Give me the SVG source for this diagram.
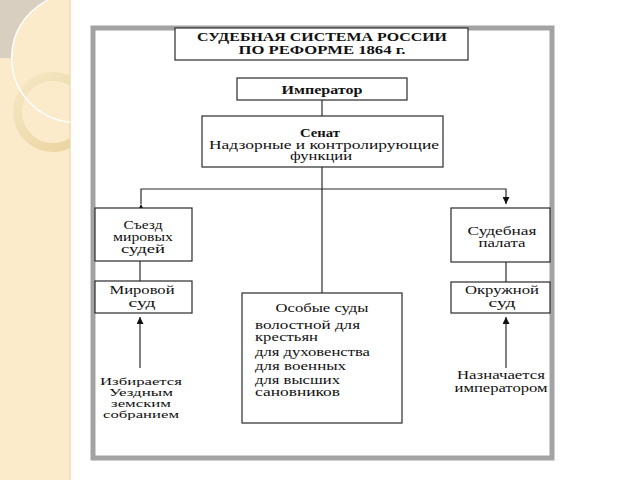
<svg xmlns="http://www.w3.org/2000/svg" width="640" height="480" viewBox="0 0 640 480">
<defs>
<marker id="ah" viewBox="0 0 10 10" refX="10" refY="5" markerWidth="7" markerHeight="7" orient="auto" markerUnits="userSpaceOnUse">
<path d="M0,0 L10,5 L0,10 Z" fill="#111"/>
</marker>
<clipPath id="strip"><rect x="0" y="0" width="70" height="480"/></clipPath>
<linearGradient id="ring" x1="0" y1="0" x2="1" y2="1">
<stop offset="0" stop-color="#F6E8C4"/>
<stop offset="1" stop-color="#E9D29C"/>
</linearGradient>
</defs>
<style>
.box{fill:#fff;stroke:#2a2a2a;stroke-width:1.2}
.ln{fill:none;stroke:#2a2a2a;stroke-width:1.2}
text{font-family:"Liberation Serif","Times New Roman",serif;font-size:11.5px;fill:#111;text-anchor:middle}
.b{font-weight:bold}
.l{text-anchor:start}
.s{font-size:10.5px}
</style>
<rect x="0" y="0" width="640" height="480" fill="#fff"/>
<g id="decor">
<rect x="0" y="0" width="70" height="480" fill="#FBEBCB"/>
<line x1="70" y1="0" x2="70" y2="480" stroke="#EFDDB6" stroke-width="1.5"/>
<g clip-path="url(#strip)">
<path d="M0,0 L48,0 A64.3,64.3 0 0 0 12,58 L0,58 Z" fill="#D8CFC1"/>
<circle cx="53" cy="112" r="35.5" fill="none" stroke="url(#ring)" stroke-width="9"/>
<circle cx="76" cy="58" r="64.3" fill="none" stroke="#fff" stroke-width="1.5"/>
</g>
</g>
<rect id="frame" x="93" y="28" width="459" height="430" fill="#fff" stroke="#a3a3a3" stroke-width="5"/>
<g id="connectors">
<line class="ln" x1="322" y1="100" x2="322" y2="116"/>
<line class="ln" x1="322" y1="167" x2="322" y2="293"/>
<polyline class="ln" points="141,204 141,189 506,189 506,204" marker-start="url(#ah)" marker-end="url(#ah)"/>
<line class="ln" x1="140" y1="261" x2="140" y2="281"/>
<line class="ln" x1="506" y1="262" x2="506" y2="282"/>
<line class="ln" x1="140" y1="368" x2="140" y2="317" marker-end="url(#ah)"/>
<line class="ln" x1="506" y1="368" x2="506" y2="317" marker-end="url(#ah)"/>
</g>
<g id="title">
<rect class="box" x="175" y="28" width="293" height="32"/>
<text class="b" x="322" y="41" textLength="250" lengthAdjust="spacingAndGlyphs" style="font-size:12px">СУДЕБНАЯ СИСТЕМА РОССИИ</text>
<text class="b" x="322" y="54" textLength="167" lengthAdjust="spacingAndGlyphs" style="font-size:12px">ПО РЕФОРМЕ 1864 г.</text>
</g>
<g id="emperor">
<rect class="box" x="237" y="78" width="170" height="22"/>
<text class="b" x="322" y="94" textLength="81" lengthAdjust="spacingAndGlyphs">Император</text>
</g>
<g id="senate">
<rect class="box" x="202" y="116" width="241" height="51"/>
<text class="b" x="320" y="137" textLength="40" lengthAdjust="spacingAndGlyphs">Сенат</text>
<text x="324" y="149" textLength="230" lengthAdjust="spacingAndGlyphs">Надзорные и контролирующие</text>
<text x="321" y="160" textLength="62" lengthAdjust="spacingAndGlyphs">функции</text>
</g>
<g id="congress">
<rect class="box" x="95" y="208" width="97" height="53"/>
<text x="143" y="229" textLength="39" lengthAdjust="spacingAndGlyphs">Съезд</text>
<text x="143" y="241" textLength="60" lengthAdjust="spacingAndGlyphs">мировых</text>
<text x="143" y="253" textLength="44" lengthAdjust="spacingAndGlyphs">судей</text>
</g>
<g id="mirovoy">
<rect class="box" x="95" y="281" width="97" height="32"/>
<text x="142" y="294" textLength="65" lengthAdjust="spacingAndGlyphs">Мировой</text>
<text x="142" y="307" textLength="27" lengthAdjust="spacingAndGlyphs">суд</text>
</g>
<g id="elected">
<text class="s" x="141" y="385" textLength="82" lengthAdjust="spacingAndGlyphs">Избирается</text>
<text class="s" x="141" y="396" textLength="64" lengthAdjust="spacingAndGlyphs">Уездным</text>
<text class="s" x="141" y="407" textLength="60" lengthAdjust="spacingAndGlyphs">земским</text>
<text class="s" x="141" y="418" textLength="76" lengthAdjust="spacingAndGlyphs">собранием</text>
</g>
<g id="special">
<rect class="box" x="242" y="293" width="160" height="130"/>
<text x="322" y="312" textLength="93" lengthAdjust="spacingAndGlyphs">Особые суды</text>
<text class="l" x="255" y="329" textLength="105" lengthAdjust="spacingAndGlyphs">волостной для</text>
<text class="l" x="255" y="341" textLength="63" lengthAdjust="spacingAndGlyphs">крестьян</text>
<text class="l" x="255" y="356" textLength="115" lengthAdjust="spacingAndGlyphs">для духовенства</text>
<text class="l" x="255" y="370" textLength="91" lengthAdjust="spacingAndGlyphs">для военных</text>
<text class="l" x="255" y="384" textLength="85" lengthAdjust="spacingAndGlyphs">для высших</text>
<text class="l" x="255" y="396" textLength="85" lengthAdjust="spacingAndGlyphs">сановников</text>
</g>
<g id="chamber">
<rect class="box" x="451" y="208" width="99" height="54"/>
<text x="502" y="235" textLength="69" lengthAdjust="spacingAndGlyphs">Судебная</text>
<text x="502" y="247" textLength="47" lengthAdjust="spacingAndGlyphs">палата</text>
</g>
<g id="district">
<rect class="box" x="451" y="282" width="99" height="31"/>
<text x="502" y="294" textLength="74" lengthAdjust="spacingAndGlyphs">Окружной</text>
<text x="502" y="307" textLength="27" lengthAdjust="spacingAndGlyphs">суд</text>
</g>
<g id="appointed">
<text x="501" y="379" textLength="88" lengthAdjust="spacingAndGlyphs">Назначается</text>
<text x="501" y="392" textLength="93" lengthAdjust="spacingAndGlyphs">императором</text>
</g>
</svg>
